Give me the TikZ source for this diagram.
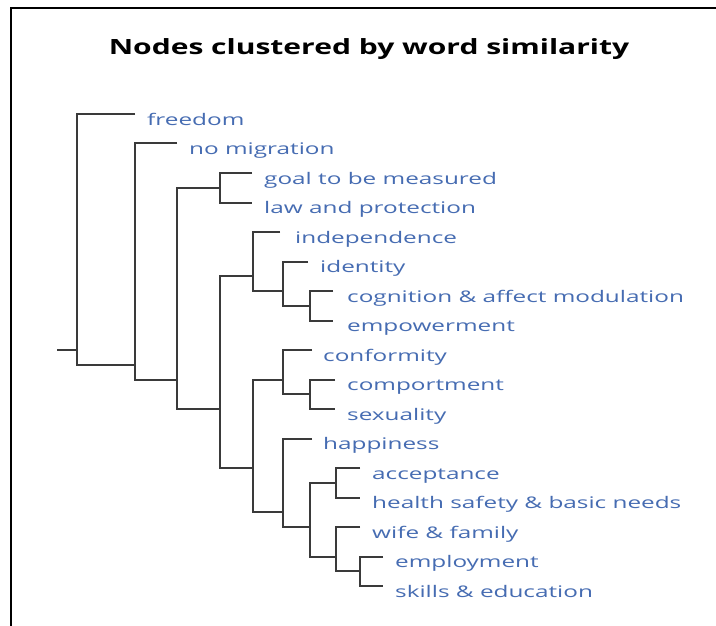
\documentclass[tikz,border=0pt]{standalone}
\usepackage{fontspec}
\usepackage{graphicx}
\setmainfont{Open Sans}
\definecolor{lbl}{RGB}{70,108,178}
\definecolor{ln}{RGB}{58,58,58}
\newcommand{\wideleaf}[1]{\scalebox{1.52}[1]{#1}}
\newcommand{\widetitle}[1]{\scalebox{1.43}[1]{#1}}
\begin{document}
\begin{tikzpicture}[x=1pt,y=-1pt,
  leaf/.style={font=\fontsize{16}{19}\selectfont, text=lbl, inner sep=0pt, anchor=base west},
  titlenode/.style={font=\fontsize{21}{25}\selectfont\bfseries, text=black, inner sep=0pt, anchor=base},
  branch/.style={draw=ln, line width=2pt, line join=miter},
  frame/.style={draw=black, line width=2.5pt}]
\useasboundingbox (0,0) rectangle (716,626);
\fill[white] (0,0) rectangle (716,626);
% frame
\coordinate (fb) at (11,626);
\coordinate (fc) at (11,8);
\coordinate (fr) at (716,8);
\draw[frame] (fb) -- (fc) -- (fr);
% title
\node[titlenode] (title) at (369,55) {\widetitle{Nodes clustered by word similarity}};
% leaf line ends
\coordinate (e0) at (135,114);
\coordinate (e1) at (177,143.5);
\coordinate (e2) at (252,173);
\coordinate (e3) at (252,202.5);
\coordinate (e4) at (280,232);
\coordinate (e5) at (308,261.5);
\coordinate (e6) at (333,291);
\coordinate (e7) at (333,320.5);
\coordinate (e8) at (312,350);
\coordinate (e9) at (335,379.5);
\coordinate (e10) at (335,409);
\coordinate (e11) at (312,438.5);
\coordinate (e12) at (360,468);
\coordinate (e13) at (360,497.5);
\coordinate (e14) at (360,527);
\coordinate (e15) at (383,556.5);
\coordinate (e16) at (383,586);
% labels
\node[leaf] (n0) at (147,125) {\wideleaf{freedom}};
\node[leaf] (n1) at (189,154.5) {\wideleaf{no migration}};
\node[leaf] (n2) at (264,184) {\wideleaf{goal to be measured}};
\node[leaf] (n3) at (264,213.5) {\wideleaf{law and protection}};
\node[leaf] (n4) at (295,243) {\wideleaf{independence}};
\node[leaf] (n5) at (320,272.5) {\wideleaf{identity}};
\node[leaf] (n6) at (347,302) {\wideleaf{cognition \& affect modulation}};
\node[leaf] (n7) at (347,331.5) {\wideleaf{empowerment}};
\node[leaf] (n8) at (323,361) {\wideleaf{conformity}};
\node[leaf] (n9) at (347,390.5) {\wideleaf{comportment}};
\node[leaf] (n10) at (347,420) {\wideleaf{sexuality}};
\node[leaf] (n11) at (323,449.5) {\wideleaf{happiness}};
\node[leaf] (n12) at (372,479) {\wideleaf{acceptance}};
\node[leaf] (n13) at (372,508.5) {\wideleaf{health safety \& basic needs}};
\node[leaf] (n14) at (372,538) {\wideleaf{wife \& family}};
\node[leaf] (n15) at (395,567.5) {\wideleaf{employment}};
\node[leaf] (n16) at (395,597) {\wideleaf{skills \& education}};
% internal merge points
\coordinate (r0) at (57,350);
\coordinate (R) at (77,350);
\coordinate (A) at (135,364.75);
\coordinate (B) at (177,379.5);
\coordinate (C) at (220,187.75);
\coordinate (D) at (220,409);
\coordinate (E) at (253,276.25);
\coordinate (E2) at (283,291);
\coordinate (E3) at (310,305.75);
\coordinate (F) at (253,468);
\coordinate (G) at (283,379.5);
\coordinate (G2) at (310,394.25);
\coordinate (H) at (283,512.25);
\coordinate (H2) at (310,527);
\coordinate (H3) at (336,482.75);
\coordinate (H4) at (336,556.5);
\coordinate (H5) at (360,571.25);
% branches
\draw[branch] (r0) -- (R);
\draw[branch] (e0) -| (R) |- (A);
\draw[branch] (e1) -| (A) |- (B);
\draw[branch] (C) -| (B) |- (D);
\draw[branch] (e2) -| (C) |- (e3);
\draw[branch] (E) -| (D) |- (F);
\draw[branch] (e4) -| (E) |- (E2);
\draw[branch] (e5) -| (E2) |- (E3);
\draw[branch] (e6) -| (E3) |- (e7);
\draw[branch] (G) -| (F) |- (H);
\draw[branch] (e8) -| (G) |- (G2);
\draw[branch] (e9) -| (G2) |- (e10);
\draw[branch] (e11) -| (H) |- (H2);
\draw[branch] (H3) -| (H2) |- (H4);
\draw[branch] (e12) -| (H3) |- (e13);
\draw[branch] (e14) -| (H4) |- (H5);
\draw[branch] (e15) -| (H5) |- (e16);
\end{tikzpicture}
\end{document}
